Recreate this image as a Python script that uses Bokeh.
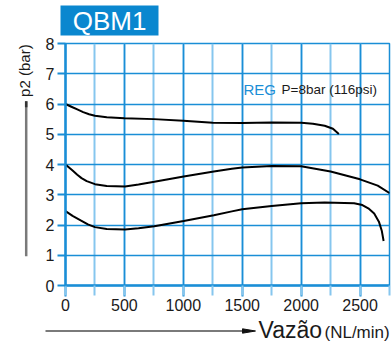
from bokeh.plotting import figure
from bokeh.models import SingleIntervalTicker, Label, Range1d
from bokeh.layouts import row, column
from bokeh.core.properties import value
from bokeh.embed import file_html
from bokeh.resources import INLINE

# ---- data ----
flow_upper = [0, 50, 100, 150, 200, 250, 350, 500, 750, 1000, 1250, 1500, 1750, 2000, 2100, 2200, 2270, 2320]
p2_upper = [6.0, 5.91, 5.82, 5.73, 5.66, 5.61, 5.56, 5.53, 5.5, 5.45, 5.38, 5.37, 5.39, 5.38, 5.35, 5.28, 5.18, 5.01]

flow_mid = [0, 30, 60, 100, 136, 180, 250, 350, 505, 620, 754, 1003, 1259, 1412, 1500, 1750, 2000, 2250, 2500, 2650, 2752]
p2_mid = [4.0, 3.9, 3.8, 3.66, 3.55, 3.45, 3.35, 3.29, 3.27, 3.34, 3.43, 3.6, 3.77, 3.86, 3.9, 3.95, 3.94, 3.77, 3.51, 3.3, 3.05]

flow_low = [0, 60, 136, 190, 250, 350, 505, 620, 754, 1003, 1259, 1412, 1500, 1750, 2000, 2200, 2450, 2520, 2570, 2620, 2660, 2685, 2700]
p2_low = [2.46, 2.3, 2.14, 2.02, 1.93, 1.87, 1.85, 1.89, 1.96, 2.13, 2.32, 2.45, 2.52, 2.63, 2.72, 2.74, 2.72, 2.66, 2.55, 2.38, 2.11, 1.8, 1.47]

title_text = "QBM1"
ylabel_text = "p2 (bar)"
xlabel_main = "Vazão"
xlabel_unit = "(NL/min)"
reg_text = "REG"
cond_text = "P=8bar (116psi)"

BLUE = "#1a8ed6"
LIGHT = "#86c6ee"
BOXBLUE = "#0a87cf"
SANS = "Liberation Sans"
TXT = "#1a1a1a"


def deco(x0, x1, y0, y1):
    """Decoration strip whose data units are window pixels."""
    f = figure(width=x1 - x0, height=y1 - y0, x_range=Range1d(x0, x1), y_range=Range1d(y1, y0),
               x_axis_type=None, y_axis_type=None, min_border=0,
               output_backend="svg", toolbar_location=None)
    f.outline_line_color = None
    f.grid.visible = False
    return f


# ---------- top strip (full width): title box ----------
top = deco(0, 392, 0, 36)
top.quad(left=[60], right=[158], top=[5], bottom=[35], fill_color=BOXBLUE, line_color=None)
top.text(x=[109], y=[20.8], text=[title_text], text_align="center", text_baseline="middle",
         text_font=value(SANS), text_font_size="26px", text_color="white")

# ---------- left strip: y title and arrow line ----------
left = deco(0, 40, 36, 317)
left.text(x=[23.8], y=[98], text=[ylabel_text], angle=1.5708, text_align="left",
          text_baseline="middle", text_font=value(SANS), text_font_size="15px", text_color=TXT)
left.segment(x0=[25.7], y0=[103], x1=[25.7], y1=[283], line_color="#7a7a7a", line_width=2.5)
left.segment(x0=[25.7], y0=[103], x1=[25.7], y1=[110], line_color="#333333", line_width=2.5)

# ---------- main chart ----------
FL, FR, FT, FB = 65, 389, 43, 285
p = figure(width=352, height=281, x_range=(0, 2750), y_range=(0, 8),
           output_backend="svg", toolbar_location=None,
           min_border_left=25, min_border_right=3, min_border_top=7, min_border_bottom=32)
p.background_fill_color = "white"
p.border_fill_color = "white"
p.outline_line_color = BLUE
p.outline_line_width = 1.5


def dx(sx):
    return (sx - FL) / (FR - FL) * 2750


def dy(sy):
    return (FB - sy) / (FB - FT) * 8


xt = SingleIntervalTicker(interval=500, num_minor_ticks=2)
yt = SingleIntervalTicker(interval=1, num_minor_ticks=0)
p.xaxis.ticker = xt
p.yaxis.ticker = yt
p.xgrid.ticker = xt
p.ygrid.ticker = yt

for ax in (p.xaxis[0], p.yaxis[0]):
    ax.axis_line_color = BLUE
    ax.axis_line_width = 2.5
    ax.major_tick_line_color = BLUE
    ax.major_tick_line_width = 2
    ax.major_tick_in = 0
    ax.major_label_text_font = SANS
    ax.major_label_text_font_size = "16px"
    ax.major_label_text_color = TXT

p.xaxis.major_tick_out = 11
p.xaxis.minor_tick_out = 10
p.xaxis.minor_tick_in = 0
p.xaxis.minor_tick_line_color = LIGHT
p.xaxis.minor_tick_line_width = 2
p.xaxis.major_label_standoff = 2
p.yaxis.major_tick_out = 8
p.yaxis.minor_tick_line_color = None
p.yaxis.major_label_standoff = 3

p.xgrid.grid_line_color = BLUE
p.xgrid.grid_line_width = 1.5
p.xgrid.minor_grid_line_color = LIGHT
p.xgrid.minor_grid_line_width = 2
p.ygrid.grid_line_color = BLUE
p.ygrid.grid_line_width = 1.5

for xs, ys in ((flow_upper, p2_upper), (flow_mid, p2_mid), (flow_low, p2_low)):
    p.line(xs, ys, line_color="black", line_width=2)

p.add_layout(Label(x=dx(243), y=dy(89), text=reg_text, text_color=BLUE,
                   text_font=SANS, text_font_size="15px", text_baseline="middle"))
p.add_layout(Label(x=dx(281), y=dy(89), text=cond_text, text_color=TXT,
                   text_font=SANS, text_font_size="13.5px", text_baseline="middle"))

# ---------- bottom strip (full width): x title and arrow ----------
bot = deco(0, 392, 317, 347)
bot.segment(x0=[45], y0=[330.5], x1=[245], y1=[330.5], line_color="#7a7a7a", line_width=2.2)
bot.patch(x=[242, 255, 242], y=[328.3, 330.5, 332.7], fill_color="#111111", line_color="#111111")
bot.text(x=[258], y=[329.5], text=[xlabel_main], text_align="left", text_baseline="middle",
         text_font=value(SANS), text_font_size="23px", text_color=TXT)
bot.text(x=[324], y=[331.6], text=[xlabel_unit], text_align="left", text_baseline="middle",
         text_font=value(SANS), text_font_size="17px", text_color=TXT)

layout = column(top, row(left, p), bot)
open("out.html", "w").write(file_html(layout, INLINE))
